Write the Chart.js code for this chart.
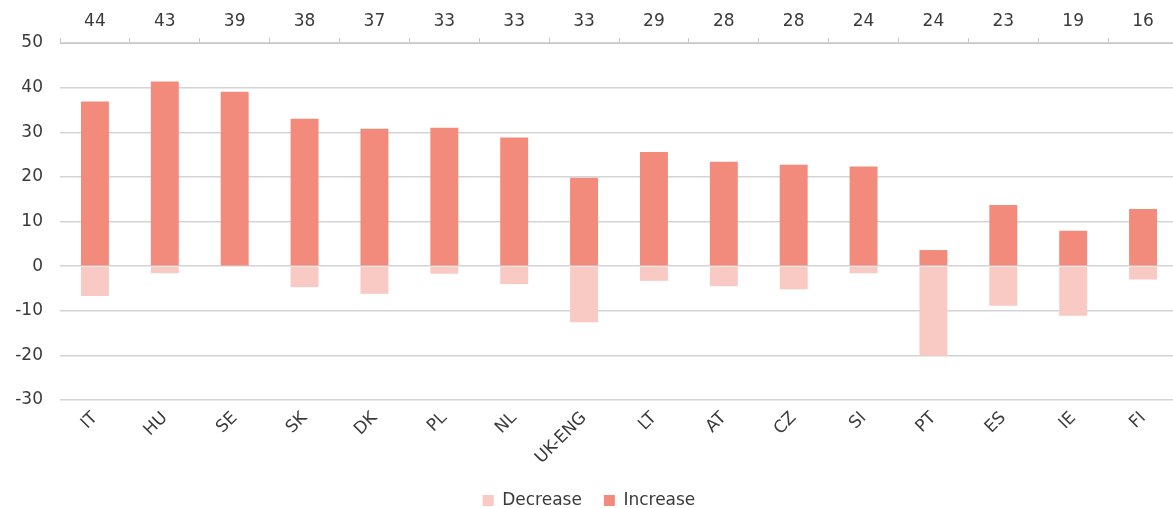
<!DOCTYPE html>
<html>
<head>
<meta charset="utf-8">
<script src="https://cdn.jsdelivr.net/npm/chart.js@4"></script>
<style>
html,body{margin:0;padding:0;background:#fff;overflow:hidden;}
#wrap{position:relative;width:1180px;height:508px;}
</style>
</head>
<body>
<div id="wrap"><canvas id="c"></canvas></div>
<script>
const categories = ['IT','HU','SE','SK','DK','PL','NL','UK-ENG','LT','AT','CZ','SI','PT','ES','IE','FI'];
const topLabels = ['44','43','39','38','37','33','33','33','29','28','28','24','24','23','19','16'];
const increase = [36.9,41.4,39.1,33.0,30.8,31.0,28.8,19.8,25.6,23.4,22.7,22.3,3.6,13.7,7.9,12.8];
const decrease = [-6.7,-1.6,-0.2,-4.7,-6.2,-1.7,-4.0,-12.6,-3.3,-4.5,-5.2,-1.6,-20.1,-8.9,-11.1,-3.0];

const FONT = 'DejaVu Sans, Verdana, sans-serif';
const TXT = '#3a3a3a';
const GRID = '#d4d4d4';
const FS = 17;

const layoutTweak = {
  id: 'layoutTweak',
  afterLayout(chart) {
    const l = chart.legend;
    if (l) {
      const h = l.bottom - l.top;
      l.top = 470;
      l.bottom = 470 + h;
    }
    const x = chart.scales.x;
    if (x) {
      x.bottom = 470;
      x.height = x.bottom - x.top;
    }
  }
};

new Chart(document.getElementById('c'), {
  type: 'bar',
  data: {
    labels: categories,
    datasets: [
      {label: 'Decrease', data: decrease, backgroundColor: '#f9c9c3', barPercentage: 0.4, categoryPercentage: 1, xAxisID: 'x', yAxisID: 'y'},
      {label: 'Increase', data: increase, backgroundColor: '#f28b7b', barPercentage: 0.4, categoryPercentage: 1, xAxisID: 'x', yAxisID: 'y'}
    ]
  },
  plugins: [layoutTweak],
  options: {
    responsive: true,
    maintainAspectRatio: false,
    animation: false,
    layout: {padding: {top: 0, left: 0, right: 2, bottom: 0}},
    plugins: {
      tooltip: {enabled: false},
      legend: {
        position: 'bottom',
        labels: {font: {family: FONT, size: FS}, color: TXT, boxWidth: 11, boxHeight: 11, padding: 22}
      }
    },
    scales: {
      x: {
        stacked: true,
        position: 'bottom',
        grid: {display: false},
        border: {display: false},
        ticks: {font: {family: FONT, size: FS}, color: TXT, minRotation: 45, maxRotation: 45, padding: 0},
        afterFit: (s) => {
          const lh = s.chart.legend ? s.chart.legend.height : 0;
          s.height = Math.max(10, s.chart.height - lh - 43 - 357);
        }
      },
      x2: {
        type: 'category',
        labels: topLabels,
        position: 'top',
        offset: true,
        grid: {display: true, drawOnChartArea: false, drawTicks: true, tickLength: 5, color: '#c8c8c8', offset: true},
        border: {display: true, color: '#c8c8c8'},
        ticks: {font: {family: FONT, size: FS}, color: TXT, padding: 6, maxRotation: 0},
        afterFit: (s) => { s.height = 43; }
      },
      y: {
        stacked: true,
        min: -30,
        max: 50,
        ticks: {stepSize: 10, font: {family: FONT, size: FS}, color: TXT, padding: 17},
        grid: {color: GRID, lineWidth: 1.5, drawTicks: false},
        border: {display: false},
        afterFit: (s) => { s.width = 60; }
      }
    }
  }
});
</script>
</body>
</html>
